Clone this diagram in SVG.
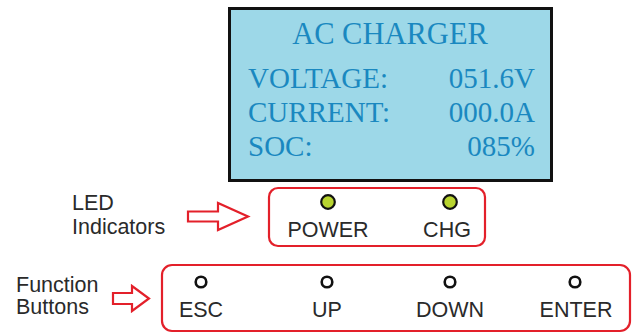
<svg xmlns="http://www.w3.org/2000/svg" width="633" height="333" viewBox="0 0 633 333">
<style>
.lcd{font-family:"Liberation Serif","Times New Roman",serif;font-size:29px;fill:#1a88c0}
.ttl{font-size:30.5px}
.lbl{font-family:"Liberation Sans",Arial,sans-serif;font-size:21.5px;fill:#2a2a2a}
.box{fill:#fff;stroke:#e3202a;stroke-width:2.2}
.arrow{fill:#fff;stroke:#e3202a;stroke-width:2.2;stroke-linejoin:miter}
.led{fill:#b8d430;stroke:#111;stroke-width:2.2}
.btn{fill:#fff;stroke:#111;stroke-width:2.6}
</style>
<rect width="633" height="333" fill="#fff"/>
<g id="lcd">
<rect x="229.5" y="8.5" width="322" height="172" fill="#9dd8e8" stroke="#111" stroke-width="3"/>
<text class="lcd ttl" x="390" y="44" text-anchor="middle">AC CHARGER</text>
<text class="lcd" x="248" y="88">VOLTAGE:</text>
<text class="lcd" x="535" y="88" text-anchor="end">051.6V</text>
<text class="lcd" x="248" y="122">CURRENT:</text>
<text class="lcd" x="535" y="122" text-anchor="end">000.0A</text>
<text class="lcd" x="248" y="156">SOC:</text>
<text class="lcd" x="535" y="156" text-anchor="end">085%</text>
</g>
<g id="led-label">
<text class="lbl" x="72" y="210">LED</text>
<text class="lbl" x="72" y="234">Indicators</text>
</g>
<g id="btn-label">
<text class="lbl" x="16" y="292">Function</text>
<text class="lbl" x="16" y="314">Buttons</text>
</g>
<g id="connectors">
<path class="arrow" d="M188,211.5 H218 V203 L248,216.5 L218,230 V221.5 H188 Z"/>
<path class="arrow" d="M113,293 H132 V286 L149,298.5 L132,311 V304 H113 Z"/>
</g>
<g id="led-panel">
<rect class="box" x="269" y="188" width="216" height="58" rx="9"/>
<circle class="led" cx="328" cy="202" r="6.8"/>
<circle class="led" cx="450" cy="202" r="6.8"/>
<text class="lbl" x="328" y="237" text-anchor="middle">POWER</text>
<text class="lbl" x="447" y="237" text-anchor="middle">CHG</text>
</g>
<g id="button-panel">
<rect class="box" x="162" y="265" width="468" height="66" rx="10"/>
<circle class="btn" cx="201" cy="282" r="5.3"/>
<circle class="btn" cx="327" cy="282" r="5.3"/>
<circle class="btn" cx="450" cy="282" r="5.3"/>
<circle class="btn" cx="575" cy="282" r="5.3"/>
<text class="lbl" x="201" y="317" text-anchor="middle">ESC</text>
<text class="lbl" x="327" y="317" text-anchor="middle">UP</text>
<text class="lbl" x="450" y="317" text-anchor="middle">DOWN</text>
<text class="lbl" x="576" y="317" text-anchor="middle">ENTER</text>
</g>
</svg>
